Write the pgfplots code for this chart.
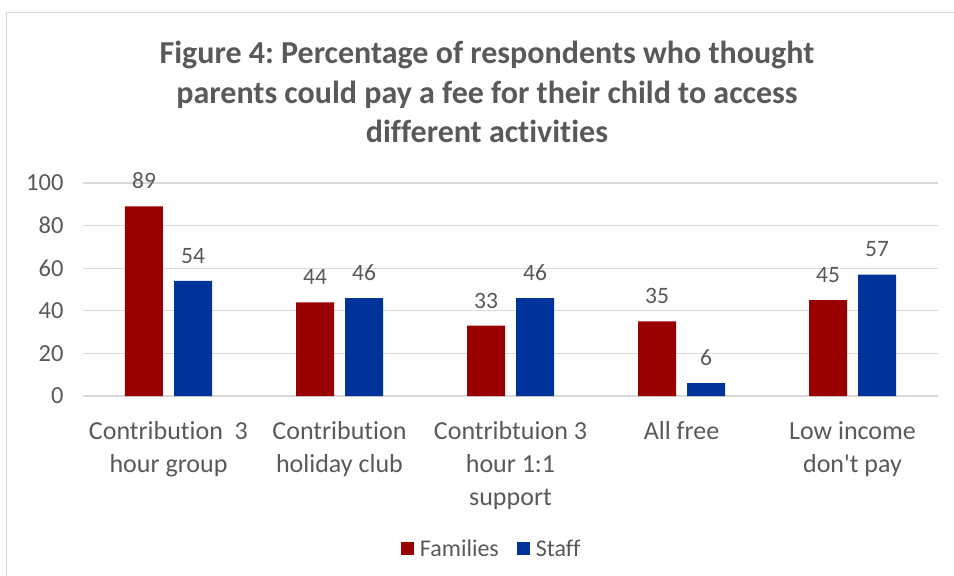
\documentclass[border=0pt]{standalone}
\usepackage{pgfplots}
\pgfplotsset{compat=1.18}
\usepackage{fontspec}
\setmainfont{Carlito}[Ligatures={NoCommon}]
\definecolor{famred}{HTML}{990000}
\definecolor{staffblue}{HTML}{003399}
\definecolor{txtgray}{HTML}{595959}
\definecolor{gridgray}{HTML}{D9D9D9}
\begin{document}
\frenchspacing
\begin{tikzpicture}[x=1pt,y=1pt]
\useasboundingbox (0,0) rectangle (954,576);
\draw[gridgray,line width=1.5pt] (6.5,0) -- (6.5,563.5) -- (954,563.5);
\node[align=center,text=txtgray,font=\bfseries\fontsize{32}{39.5}\selectfont] at (487,484) {Figure 4: Percentage of respondents who thought\\parents could pay a fee for their child to access\\different activities};
\begin{axis}[
  at={(83pt,180pt)}, anchor=south west,
  scale only axis, width=855pt, height=213pt,
  ybar=11pt, bar width=38pt,
  xmin=-0.5, xmax=4.5, ymin=0, ymax=100,
  xtick=data,
  xticklabels={{Contribution\ \ 3\\hour group},{Contribution\\holiday club},{Contribtuion 3\\hour 1:1\\support},{All free},{Low income\\don\textquotesingle t pay}},
  x tick label style={align=center,text=txtgray,font=\fontsize{26}{33}\selectfont,anchor=north,yshift=-22pt},
  ytick={0,20,...,100},
  y tick label style={text=txtgray,font=\fontsize{24.5}{28}\selectfont,xshift=-16pt},
  /pgf/number format/assume math mode=true,
  major tick length=0pt,
  ymajorgrids, grid style={gridgray,line width=1.3pt},
  axis line style={draw=none},
  axis x line*=bottom, axis y line*=left,
  nodes near coords,
  every node near coord/.append style={text=txtgray,font=\fontsize{23.5}{28}\selectfont,yshift=14pt},
  legend columns=2,
  legend style={at={(0.478,-0.718)},anchor=center,draw=none,fill=none,text=txtgray,font=\fontsize{24}{28}\selectfont,/tikz/every odd column/.append style={column sep=4pt},/tikz/every even column/.append style={column sep=16pt}},
  legend image code/.code={\fill[#1] (0pt,-6.5pt) rectangle (13pt,6.5pt);},
  clip=false,
]
\addplot[fill=famred,draw=none] coordinates {(0,89) (1,44) (2,33) (3,35) (4,45)};
\addplot[fill=staffblue,draw=none] coordinates {(0,54) (1,46) (2,46) (3,6) (4,57)};
\legend{Families,Staff}
\end{axis}
\end{tikzpicture}
\end{document}
